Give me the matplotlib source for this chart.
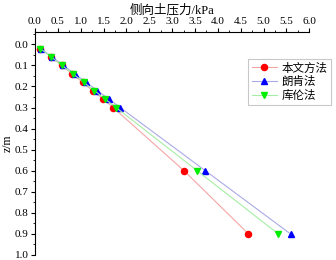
import matplotlib as mpl
import matplotlib.pyplot as plt
from matplotlib.ticker import MultipleLocator

# depth z (m) and lateral earth pressure (kPa)
z = [0.02, 0.06, 0.10, 0.14, 0.18, 0.22, 0.26, 0.30, 0.60, 0.90]
p_this = [0.12, 0.35, 0.58, 0.81, 1.04, 1.26, 1.49, 1.71, 3.26, 4.67]
p_rankine = [0.124, 0.373, 0.621, 0.869, 1.118, 1.366, 1.615, 1.863, 3.726, 5.589]
p_coulomb = [0.118, 0.355, 0.591, 0.828, 1.064, 1.301, 1.537, 1.774, 3.548, 5.321]
labels = ["本文方法", "朗肯法", "库伦法"]

mpl.rcParams.update(
    {
        "font.family": ["Liberation Serif", "Noto Sans CJK SC"],
        "font.size": 8,
        "axes.linewidth": 0.8,
        "xtick.direction": "out",
        "ytick.direction": "out",
        "xtick.major.size": 3.0,
        "ytick.major.size": 3.0,
        "xtick.minor.size": 1.6,
        "ytick.minor.size": 1.6,
        "xtick.major.pad": 1.5,
        "ytick.major.pad": 1.5,
    }
)

fig = plt.figure(figsize=(3.36, 2.60), dpi=100)
ax = fig.add_axes([35 / 336, 1 - 255 / 260, (309.3 - 35) / 336, (255 - 32.3) / 260])

series = [
    (p_this, "#f4a6a6", "#ff0000", "o"),
    (p_rankine, "#aaaae6", "#0000ff", "^"),
    (p_coulomb, "#a6eea6", "#00ee00", "v"),
]
for (vals, lc, mc, mk), lab in zip(series, labels):
    ax.plot(vals, z, color=lc, linewidth=0.8, marker=mk, markersize=4.4,
            markerfacecolor=mc, markeredgecolor=mc, label=lab)

ax.set_xlim(0, 6.0)
ax.set_ylim(1.0, -0.057)
ax.xaxis.set_major_locator(MultipleLocator(0.5))
ax.xaxis.set_minor_locator(MultipleLocator(0.25))
ax.yaxis.set_major_locator(MultipleLocator(0.1))
ax.yaxis.set_minor_locator(MultipleLocator(0.05))
ax.xaxis.set_major_formatter(lambda v, _: f"{v:.1f}")
ax.yaxis.set_major_formatter(lambda v, _: f"{v:.1f}")
ax.xaxis.tick_top()
ax.xaxis.set_label_position("top")
ax.tick_params(which="both", bottom=False, top=True)
for side in ("right", "bottom"):
    ax.spines[side].set_visible(False)

ax.set_xlabel("侧向土压力/kPa", fontsize=9, labelpad=2.5)
ax.set_ylabel("z/m", fontsize=8.5, va="center")
ax.yaxis.set_label_coords(8 / 336, 1 - 143 / 260, transform=fig.transFigure)

leg = ax.legend(loc="upper right", bbox_to_anchor=(331 / 336, 1 - 59 / 260),
                bbox_transform=fig.transFigure, fontsize=8.3, frameon=True,
                fancybox=False, edgecolor="#bbbbbb", borderpad=0.3,
                labelspacing=0.15, handlelength=2.2, handletextpad=0.4,
                borderaxespad=0)
leg.get_frame().set_linewidth(0.8)

fig.savefig("out.png", dpi=100)
plt.close(fig)
